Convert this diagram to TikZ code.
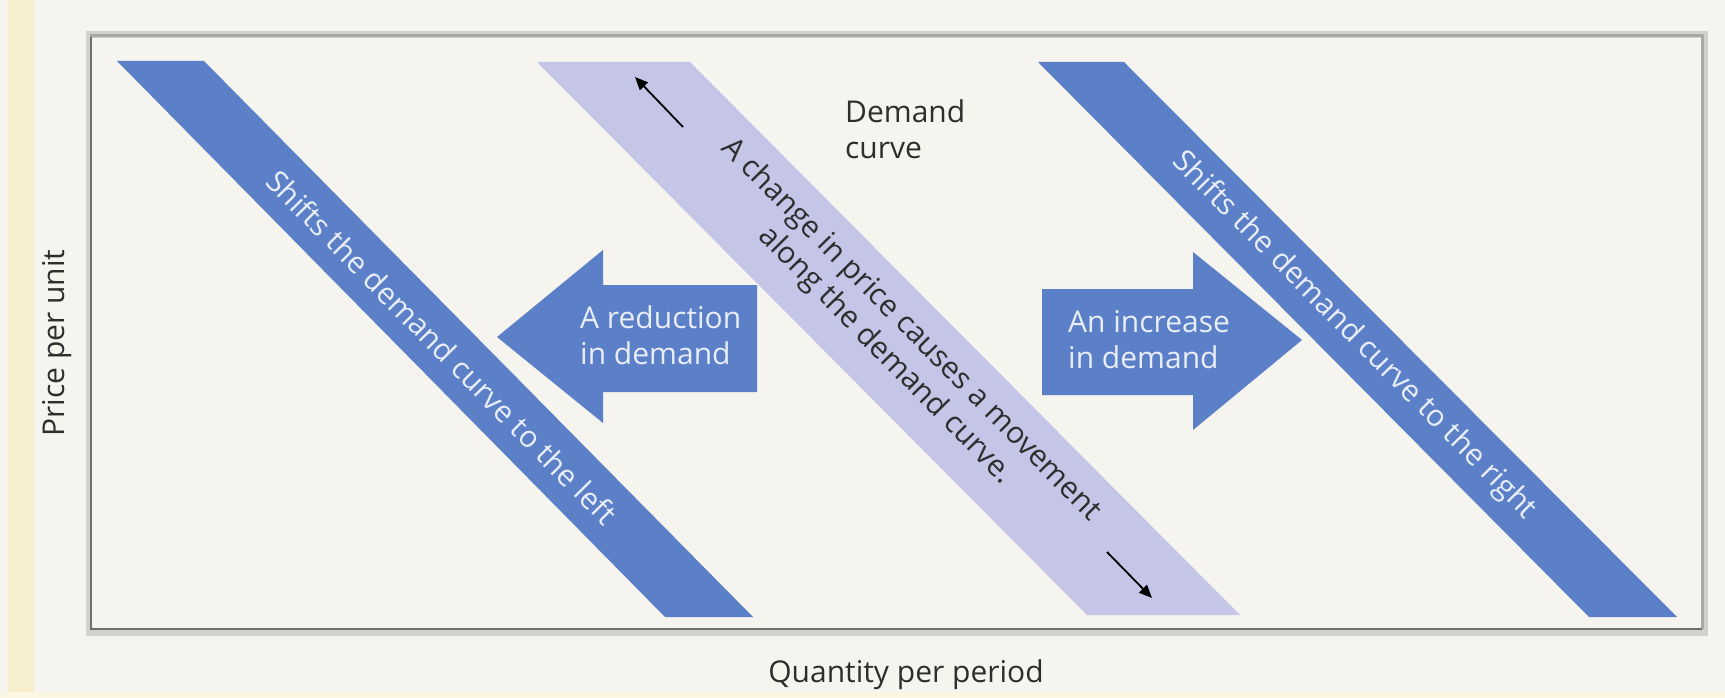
\documentclass[tikz,border=0pt]{standalone}
\usepackage{fontspec}
\setmainfont{Open Sans}
\usetikzlibrary{arrows.meta}
\definecolor{paper}{HTML}{F5F4EF}
\definecolor{sidebar}{HTML}{F7EECD}
\definecolor{shiftblue}{HTML}{5B80C8}
\definecolor{lavender}{HTML}{C5C6E7}
\definecolor{bandtext}{HTML}{E8EDF8}
\definecolor{ink}{HTML}{2E2E2E}
\definecolor{framedark}{HTML}{6E6E6A}
\definecolor{framelight}{HTML}{A9A9A3}
\definecolor{frameshade}{HTML}{D2D2CC}
\begin{document}
\begin{tikzpicture}[x=1pt,y=-1pt,
  lbl/.style={font=\fontsize{30}{36}\selectfont, inner sep=0pt, text=ink},
  bandlbl/.style={lbl, text=bandtext, align=center, rotate=-45.3},
  arrowlbl/.style={lbl, text=bandtext, align=left, anchor=west},
  blueshape/.style={fill=shiftblue},
  movearrow/.style={draw=black, line width=1.8pt, -{Triangle[length=13pt,width=11pt]}}]
\useasboundingbox (0,0) rectangle (1725,698);
% paper and side strip
\fill[paper] (0,0) rectangle (1725,698);
\fill[sidebar] (8,0) rectangle (34,698);
\fill[sidebar!55] (0,692) rectangle (1725,698);

% graph frame with soft edge
\fill[frameshade] (86,31) rectangle (1708,636);
\fill[paper] (92,38) rectangle (1701,628);
\draw[framelight, line width=3pt] (90,36) -- (1702,36) -- (1702,629);
\draw[framedark, line width=2.2pt] (91,37) -- (91,629) -- (1702,629);

% demand curves
\fill[blueshape] (117,61) -- (204,61) -- (753,617) -- (665,617) -- cycle;
\fill[lavender] (537,62) -- (690,62) -- (1240,615) -- (1087,615) -- cycle;
\fill[blueshape] (1038,62) -- (1124,62) -- (1677,617) -- (1589,617) -- cycle;

% shift arrows
\fill[blueshape] (497,337) -- (603,250) -- (603,285) -- (757,285)
  -- (757,392) -- (603,392) -- (603,423) -- cycle;
\fill[blueshape] (1042,289) -- (1193,289) -- (1193,252) -- (1302,340)
  -- (1193,430) -- (1193,395) -- (1042,395) -- cycle;

% movement along the curve
\coordinate (upT) at (683,127);
\coordinate (upH) at (635,77);
\coordinate (dnT) at (1107,552);
\coordinate (dnH) at (1152,598);
\draw[movearrow] (upT) -- (upH);
\draw[movearrow] (dnT) -- (dnH);

% labels
\node[bandlbl] (leftcurve) at (442,347) {Shifts the demand curve to the left};
\node[bandlbl] (rightcurve) at (1354,336) {Shifts the demand curve to the right};
\node[lbl, align=center, rotate=-45.3] (alongcurve) at (898,343)
  {A change in price causes a movement\\along the demand curve.};
\node[arrowlbl] (reduction) at (580,335) {A reduction\\in demand};
\node[arrowlbl] (increase) at (1068,340) {An increase\\in demand};
\node[lbl, align=left, anchor=west] (demand) at (845,129) {Demand\\curve};
\node[lbl, rotate=90] (pricelbl) at (57,343) {Price per unit};
\node[lbl] (qtylbl) at (906,675) {Quantity per period};
\end{tikzpicture}
\end{document}
